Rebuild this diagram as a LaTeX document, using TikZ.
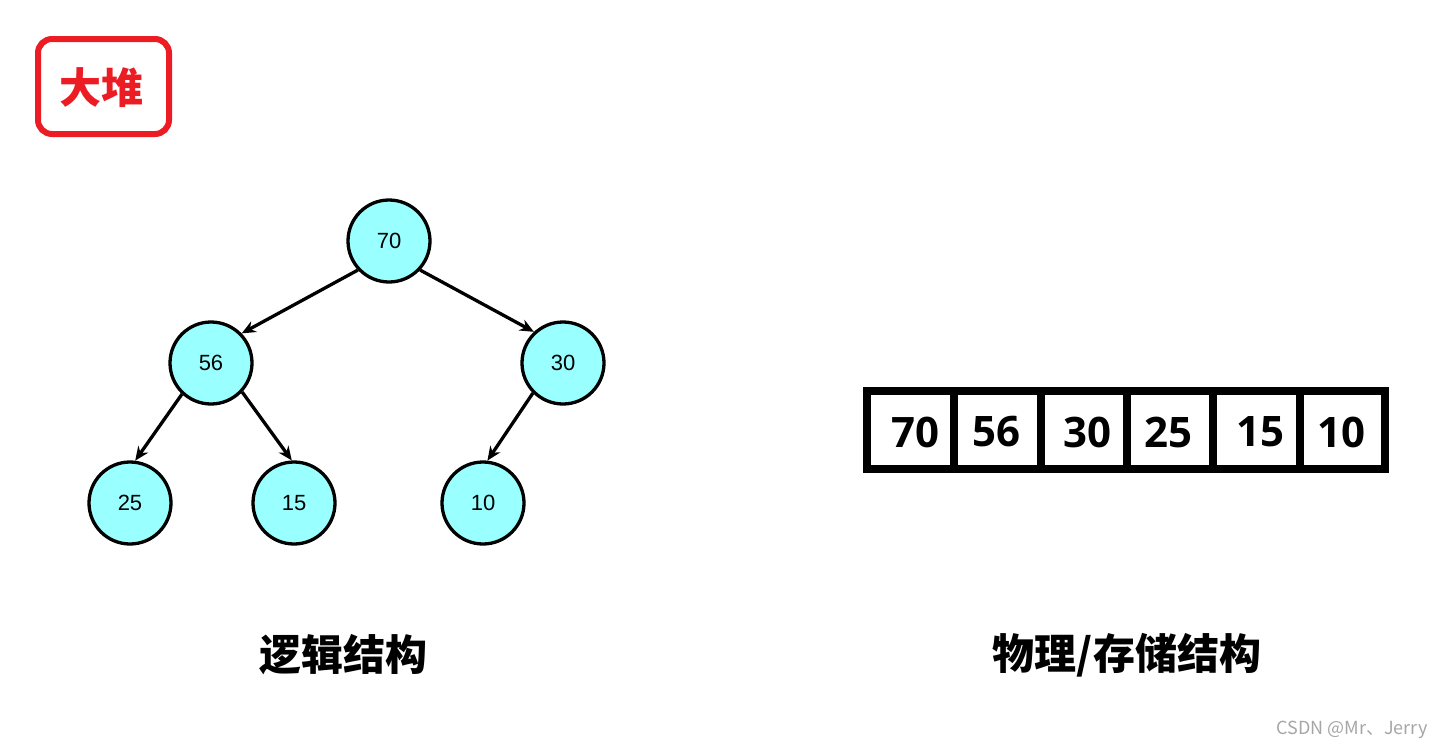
\documentclass[tikz,border=0pt]{standalone}
\usepackage{fontspec}
\setmainfont{Liberation Sans}
\newfontfamily\cjk{Noto Sans CJK SC}
\newfontfamily\cellfont{Open Sans}
\usetikzlibrary{arrows.meta}
\definecolor{nodecyan}{HTML}{99FFFF}
\definecolor{heapred}{HTML}{EC1C24}
\tikzset{
  heapnode/.style={circle, draw=black, line width=3.3pt, fill=nodecyan, minimum size=82pt, inner sep=0pt, font=\fontsize{22}{26}\selectfont},
  edge/.style={line width=3.3pt, -{Stealth[length=14pt,width=12pt]}},
  celltext/.style={font=\cellfont\bfseries\fontsize{42}{48}\selectfont, inner sep=0pt},
  caption/.style={font=\cjk\bfseries\fontsize{42}{48}\selectfont, inner sep=0pt}
}
\begin{document}
\begin{tikzpicture}[x=1pt,y=-1pt]
\useasboundingbox (0,0) rectangle (1446,750);
% title box
\draw[heapred, line width=6pt, rounded corners=14pt] (38,39) rectangle (169,134);
\node[font=\cjk\bfseries\fontsize{42}{48}\selectfont, text=heapred, inner sep=0pt] (title) at (101,88) {大堆};
% tree
\node[heapnode] (n70) at (389,241) {70};
\node[heapnode] (n56) at (211,363) {56};
\node[heapnode] (n30) at (563,363) {30};
\node[heapnode] (n25) at (130,503) {25};
\node[heapnode] (n15) at (294,503) {15};
\node[heapnode] (n10) at (483,503) {10};
\draw[edge] (n70.223) -- (n56.44);
\draw[edge] (n70.317) -- (n30.133);
\draw[edge] (n56.227) -- (n25.83);
\draw[edge] (n56.317) -- (n15.93);
\draw[edge] (n30.225) -- (n10.84);
% array
\draw[line width=8pt] (867,391) rectangle (1385,469);
\foreach \x in {954,1041,1127,1213,1300} \draw[line width=8pt] (\x,391) -- (\x,469);
\node[celltext] (c1) at (915,432) {70};
\node[celltext] (c2) at (996,432) {56};
\node[celltext] (c3) at (1087,432) {30};
\node[celltext] (c4) at (1168,432) {25};
\node[celltext] (c5) at (1260,432) {15};
\node[celltext] (c6) at (1341,432) {10};
% captions
\node[caption] (cap1) at (343,655) {逻辑结构};
\node[caption] (cap2) at (1127,655) {物理/存储结构};
% watermark
\node[font=\cjk\fontsize{18}{22}\selectfont, text=black!35, inner sep=0pt] (wm) at (1352,730) {CSDN @Mr、Jerry};
\end{tikzpicture}
\end{document}
